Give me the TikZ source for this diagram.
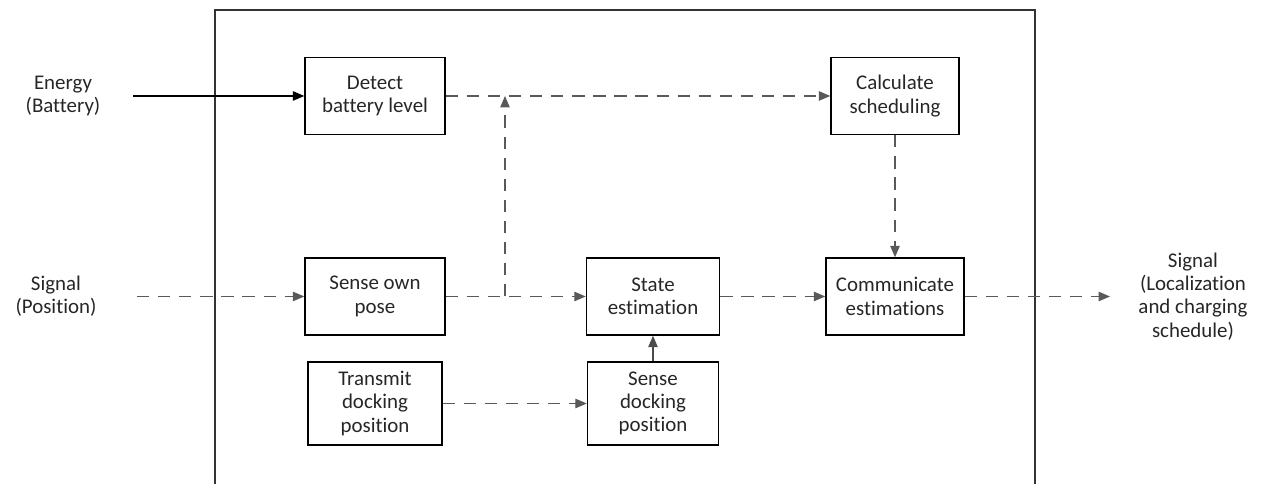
\documentclass[tikz,border=0pt]{standalone}
\usepackage{fontspec}
\setmainfont[Ligatures=NoCommon]{Carlito}
\usetikzlibrary{arrows.meta}

\begin{document}
\begin{tikzpicture}[
        >={Triangle[length=2.3mm,width=1.9mm]},
        block/.style={rectangle, draw=black, line width=0.8pt, align=center, minimum height=1.54cm, text=black!85, font=\fontsize{11.9}{13.3}\selectfont},
        tall/.style={block, minimum height=1.66cm},
        sigtext/.style={align=center, text=black!85, font=\fontsize{11.9}{13.3}\selectfont},
        flow/.style={->, dash pattern=on 7pt off 5pt, draw=black!65, line width=0.7pt},
        wire/.style={->, draw=black, line width=0.6pt},
        ]
        \useasboundingbox (0,0) rectangle (25.3,9.68);
        % system boundary
        \draw[line width=0.9pt, black!80] (4.3,0) -- (4.3,9.48) -- (20.7,9.48) -- (20.7,0);

        \node (detect) at (7.5,7.76) [block, minimum width=2.8cm] {Detect\\battery level};
        \node (calc) at (17.9,7.76) [block, minimum width=2.56cm] {Calculate\\scheduling};
        \node (pose) at (7.5,3.75) [block, minimum width=2.8cm] {Sense own\\pose};
        \node (state) at (13.06,3.75) [block, minimum width=2.66cm] {State\\estimation};
        \node (comm) at (17.9,3.75) [block, minimum width=2.76cm] {Communicate\\estimations};
        \node (transmit) at (7.5,1.61) [tall, minimum width=2.68cm] {Transmit\\docking\\position};
        \node (dock) at (13.06,1.61) [tall, minimum width=2.62cm] {Sense\\docking\\position};

        % inputs and output
        \node (energy) at (1.26,7.76) [sigtext] {Energy\\(Battery)};
        \node (sigin) at (1.12,3.75) [sigtext] {Signal\\(Position)};
        \node (sigout) at (23.86,3.75) [sigtext] {Signal\\(Localization\\and charging\\schedule)};
        \coordinate (ein) at (2.66,7.76);
        \coordinate (pin) at (2.74,3.75);
        \coordinate (out) at (22.2,3.75);
        \coordinate (tap) at (10.1,3.75);
        \coordinate (tapup) at (10.1,7.76);

        \draw[wire] (ein) -- (detect);
        \draw[flow] (pin) -- (pose);
        \draw[flow] (detect) -- (calc);
        \draw[flow] (pose) -- (state);
        \draw[flow] (tap) -- (tapup);
        \draw[flow] (calc) -- (comm);
        \draw[flow] (state) -- (comm);
        \draw[flow] (comm) -- (out);
        \draw[flow] (transmit) -- (dock);
        \draw[wire, draw=black!70] (dock) -- (state);
    \end{tikzpicture}
\end{document}
